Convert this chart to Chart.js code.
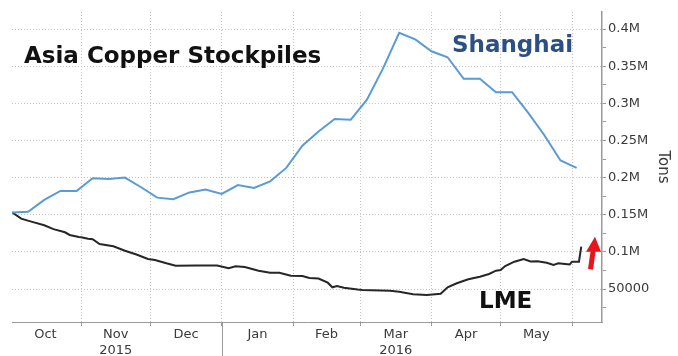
<!DOCTYPE html>
<html><head><meta charset="utf-8">
<script src="https://cdn.jsdelivr.net/npm/chart.js@4.4.1/dist/chart.umd.min.js"></script>
<style>html,body{margin:0;padding:0;background:#fff}canvas{display:block}</style>
</head><body>
<canvas id="c" width="678" height="356"></canvas>
<script>
// ---- data ----
const shanghaiDates = ['2015-10-02','2015-10-09','2015-10-16','2015-10-23','2015-10-30',
  '2015-11-06','2015-11-13','2015-11-20','2015-11-27','2015-12-04','2015-12-11','2015-12-18','2015-12-25',
  '2016-01-01','2016-01-08','2016-01-15','2016-01-22','2016-01-29','2016-02-05','2016-02-12','2016-02-19','2016-02-26',
  '2016-03-04','2016-03-11','2016-03-18','2016-03-25','2016-04-01','2016-04-08','2016-04-15','2016-04-22','2016-04-29',
  '2016-05-06','2016-05-13','2016-05-20','2016-05-27','2016-06-03'];
const shanghaiValues = [153000,154000,170000,182000,182000,199000,198000,200000,187000,173000,171000,180000,184000,
  178000,190000,186000,195000,213000,243000,262000,279000,278000,305000,347000,395000,386000,370000,362000,333000,333000,
  315000,315000,287000,257000,223000,213000];
const lmeDates = ['2015-10-02','2015-10-06','2015-10-10','2015-10-16','2015-10-20','2015-10-25','2015-10-27','2015-10-31',
  '2015-11-01','2015-11-04','2015-11-06','2015-11-09','2015-11-15','2015-11-20','2015-11-25','2015-11-30',
  '2015-12-03','2015-12-08','2015-12-12','2015-12-21','2015-12-30',
  '2016-01-04','2016-01-07','2016-01-11','2016-01-17','2016-01-22','2016-01-26','2016-01-31',
  '2016-02-05','2016-02-08','2016-02-12','2016-02-16','2016-02-18','2016-02-20','2016-02-23','2016-02-29',
  '2016-03-02','2016-03-14','2016-03-18','2016-03-24','2016-03-30',
  '2016-04-05','2016-04-08','2016-04-12','2016-04-17','2016-04-22','2016-04-26','2016-04-29',
  '2016-05-01','2016-05-03','2016-05-07','2016-05-11','2016-05-14','2016-05-17','2016-05-21','2016-05-24','2016-05-26',
  '2016-05-29','2016-05-31','2016-06-01','2016-06-04','2016-06-05'];
const lmeValues = [153400,144700,141000,135800,130600,126400,122800,120100,
  119700,117800,117000,110600,107500,101600,96400,90400,
  89100,84600,81400,81500,81600,
  77900,80600,79600,74700,72000,72000,67900,
  67500,64800,64200,58500,52300,54000,51800,49300,
  48700,47700,46400,42900,41900,
  43500,52300,57700,63100,66600,70200,74700,
  75600,81000,86800,90400,87100,87300,85400,82300,84600,
  83700,83000,86800,86800,107000];
const monthStarts = ['2015-10-01','2015-11-01','2015-12-01','2016-01-01','2016-02-01','2016-03-01','2016-04-01','2016-05-01','2016-06-01'];
const monthLabels = [['Oct'],['Nov','2015'],['Dec'],['Jan'],['Feb'],['Mar','2016'],['Apr'],['May']];
const yearBreak = '2016-01-01';
const yTickValues = [25000,50000,75000,100000,125000,150000,175000,200000,225000,250000,275000,300000,325000,350000,375000,400000];
const yTickLabels = {50000:'50000',100000:'0.1M',150000:'0.15M',200000:'0.2M',250000:'0.25M',300000:'0.3M',350000:'0.35M',400000:'0.4M'};
const xRange = ['2015-10-02','2016-06-14'];
const yRange = [5600, 422900];

// ---- helpers ----
const ORIGIN = Date.UTC(2015, 9, 1);
const toDay = s => (Date.parse(s) - ORIGIN) / 86400000;
const pts = (d, v) => d.map((s, i) => ({x: toDay(s), y: v[i]}));

const FONT = "'DejaVu Sans', Verdana, sans-serif";
const GRID = '#c4c4c4';
const AXIS = '#9a9a9a';

const annot = {
  id: 'annot',
  afterDraw(chart) {
    const {ctx, chartArea, scales} = chart;
    ctx.save();
    // year separator below the x axis
    const xb = scales.x.getPixelForValue(toDay(yearBreak));
    ctx.strokeStyle = AXIS; ctx.lineWidth = 1;
    ctx.beginPath(); ctx.moveTo(Math.round(xb) + 0.5, chartArea.bottom); ctx.lineTo(Math.round(xb) + 0.5, chart.height); ctx.stroke();
    // texts
    ctx.textBaseline = 'alphabetic'; ctx.textAlign = 'left';
    ctx.font = 'bold 23px ' + FONT;
    ctx.fillStyle = '#111';
    ctx.fillText('Asia Copper Stockpiles', 24, 63);
    ctx.fillStyle = '#2c4f86';
    ctx.fillText('Shanghai', 452, 52);
    ctx.fillStyle = '#111';
    ctx.fillText('LME', 479, 308);
    // red arrow
    const ax = chartArea.right, ay = scales.y.getPixelForValue(100000);
    ctx.fillStyle = '#e8141c';
    ctx.beginPath();
    ctx.moveTo(ax - 7, ay - 15);     // tip
    ctx.lineTo(ax - 1, ay);          // head right
    ctx.lineTo(ax - 6.5, ay);
    ctx.lineTo(ax - 9, ay + 18);     // shaft bottom right
    ctx.lineTo(ax - 14, ay + 17);    // shaft bottom left
    ctx.lineTo(ax - 11.5, ay);
    ctx.lineTo(ax - 16, ay);         // head left
    ctx.closePath();
    ctx.fill();
    ctx.restore();
  }
};

new Chart(document.getElementById('c'), {
  type: 'line',
  data: {
    datasets: [
      {label: 'Shanghai', data: pts(shanghaiDates, shanghaiValues), borderColor: '#5a9bd6', borderWidth: 2, pointRadius: 0, tension: 0},
      {label: 'LME', data: pts(lmeDates, lmeValues), borderColor: '#262626', borderWidth: 2, pointRadius: 0, tension: 0}
    ]
  },
  options: {
    responsive: false,
    animation: false,
    layout: {padding: {left: 12, top: 12, right: 0, bottom: 0}},
    plugins: {legend: {display: false}, tooltip: {enabled: false}},
    scales: {
      x: {
        type: 'linear',
        min: toDay(xRange[0]), max: toDay(xRange[1]),
        afterBuildTicks(scale) {
          const starts = monthStarts.map(toDay);
          const t = [];
          for (let i = 0; i < starts.length; i++) {
            if (starts[i] >= scale.min && starts[i] <= scale.max) t.push({value: starts[i]});
            if (i < monthLabels.length) t.push({value: (starts[i] + starts[i + 1]) / 2, mi: i});
          }
          t.sort((a, b) => a.value - b.value);
          scale.ticks = t;
        },
        afterFit(scale) { scale.height = 34; },
        ticks: {
          autoSkip: false, maxRotation: 0, minRotation: 0, padding: 1,
          color: '#3a3a3a', font: {family: FONT, size: 13},
          callback(v, i, ticks) { const tk = ticks[i]; return tk.mi !== undefined ? monthLabels[tk.mi] : ''; }
        },
        grid: {
          color: c => (c.tick && c.tick.mi === undefined) ? GRID : 'rgba(0,0,0,0)',
          tickColor: c => (c.tick && c.tick.mi === undefined) ? AXIS : 'rgba(0,0,0,0)',
          tickLength: 4, lineWidth: 1
        },
        border: {display: true, color: AXIS, width: 1, dash: [1, 2]}
      },
      y: {
        position: 'right',
        min: yRange[0], max: yRange[1],
        afterBuildTicks(scale) { scale.ticks = yTickValues.map(v => ({value: v})); },
        afterFit(scale) { scale.width = 76; },
        ticks: {
          padding: 2, color: '#3a3a3a', font: {family: FONT, size: 13},
          callback: v => yTickLabels[v] || ''
        },
        grid: {
          color: c => (c.tick && yTickLabels[c.tick.value]) ? GRID : 'rgba(0,0,0,0)',
          tickColor: AXIS, tickLength: 4, lineWidth: 1
        },
        border: {display: true, color: AXIS, width: 1.5, dash: [1, 2]},
        title: {display: true, text: 'Tons', color: '#3a3a3a', font: {family: FONT, size: 15}, padding: {top: 6, bottom: 0}}
      }
    }
  },
  plugins: [annot]
});
</script>
</body></html>
